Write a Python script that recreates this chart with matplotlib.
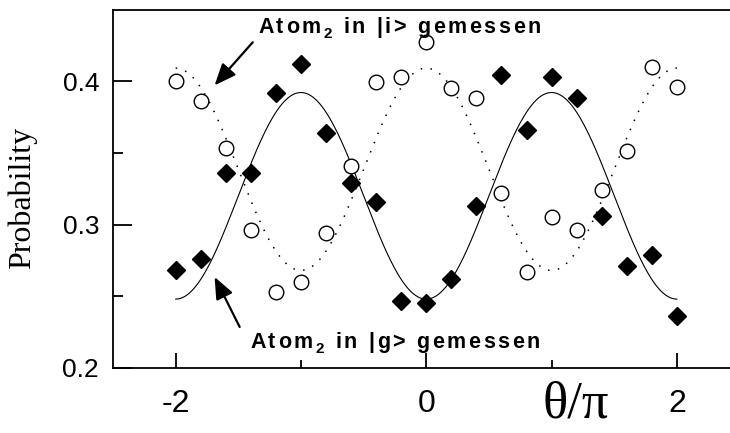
import numpy as np
import matplotlib
matplotlib.use("Agg")
import matplotlib.pyplot as plt
from matplotlib.transforms import IdentityTransform

plt.rcParams['axes.unicode_minus'] = False

# Messpunkte (theta/pi, Wahrscheinlichkeit)
theta = [-2.0, -1.8, -1.6, -1.4, -1.2, -1.0, -0.8, -0.6, -0.4, -0.2, 0.0,
         0.2, 0.4, 0.6, 0.8, 1.0, 1.2, 1.4, 1.6, 1.8, 2.0]
p_g = [0.268, 0.276, 0.336, 0.336, 0.392, 0.412, 0.364, 0.329, 0.316, 0.247, 0.245,
       0.262, 0.313, 0.404, 0.366, 0.403, 0.388, 0.306, 0.271, 0.279, 0.236]
p_i = [0.400, 0.386, 0.353, 0.296, 0.253, 0.260, 0.294, 0.341, 0.399, 0.403, 0.427,
       0.395, 0.388, 0.322, 0.267, 0.305, 0.296, 0.324, 0.351, 0.410, 0.396]

# Fit-Parameter: Mittelwert und Amplitude der Kosinus-Anpassung
fit_g = (0.320, -0.072)
fit_i = (0.3385, 0.0705)

W, H = 730, 433
fig = plt.figure(figsize=(W / 100, H / 100), dpi=100)
ax = fig.add_axes([113 / W, 65 / H, 617 / W, 358 / H])

x_fit = np.linspace(-2, 2, 400)
ax.plot(x_fit, fit_g[0] + fit_g[1] * np.cos(np.pi * x_fit), color='black', lw=0.8)
ax.plot(x_fit, fit_i[0] + fit_i[1] * np.cos(np.pi * x_fit), color='black', lw=1.1,
        linestyle=(0, (1, 5.5)))

ax.plot(theta, p_g, linestyle='none', marker='D', markersize=9.5,
        color='black', markeredgecolor='black')
ax.plot(theta, p_i, linestyle='none', marker='o', markersize=10.5,
        markerfacecolor='white', markeredgecolor='black', markeredgewidth=1.0)

ax.set_xlim(-2.5, 2.424)
ax.set_ylim(0.2, 0.4495)
ax.set_xticks([-2, 0, 2])
ax.set_xticks([-1, 1], minor=True)
ax.set_yticks([0.2, 0.3, 0.4])
ax.set_yticks([0.25, 0.35], minor=True)
ax.set_xticklabels(['-2', '0', '2'])
ax.set_yticklabels(['0.2', '0.3', '0.4'])

ax.spines['right'].set_visible(False)
for s in ['left', 'bottom', 'top']:
    ax.spines[s].set_linewidth(1.3)
ax.tick_params(axis='both', which='both', direction='in', width=1.3)
ax.tick_params(axis='x', which='major', length=11, pad=15, labelsize=23)
ax.tick_params(axis='x', which='minor', length=6)
ax.tick_params(axis='y', which='major', length=14, pad=10, labelsize=19)
ax.tick_params(axis='y', which='minor', length=7)
for lab in ax.get_xticklabels() + ax.get_yticklabels():
    lab.set_family('Liberation Sans')

fig.text(22 / W, 1 - 198 / H, 'Probability', rotation=90, ha='center', va='center',
         family='Liberation Serif', fontsize=23)
fig.text(576 / W, 1 - 405 / H, 'θ/π', ha='center', va='center',
         family='Liberation Serif', fontsize=38)


def tracked_text(x_px, base_px, parts, track):
    # Text Zeichen fuer Zeichen setzen, mit zusaetzlichem Buchstabenabstand
    renderer = fig.canvas.get_renderer()
    cur = x_px
    for chars, size, dy in parts:
        for ch in chars:
            if ch == ' ':
                cur += 0.28 * size * 100 / 72 + track
                continue
            t = fig.text(cur, H - base_px + dy, ch, transform=IdentityTransform(),
                         fontsize=size, fontweight='bold', family='Liberation Sans',
                         ha='left', va='baseline')
            cur += t.get_window_extent(renderer).width + track


tracked_text(258, 33, [('Atom', 15.5, 0), ('2', 11, -5), (' in |i> gemessen', 15.5, 0)], 2.6)
tracked_text(250, 348, [('Atom', 15.5, 0), ('2', 11, -5), (' in |g> gemessen', 15.5, 0)], 2.6)

arrow = dict(arrowstyle='-|>,head_length=0.6,head_width=0.25', color='black', lw=1.6,
             mutation_scale=22, shrinkA=0, shrinkB=0)
ax.annotate('', xy=(-1.689, 0.397), xytext=(-1.385, 0.427), arrowprops=arrow)
ax.annotate('', xy=(-1.689, 0.2634), xytext=(-1.489, 0.2286), arrowprops=arrow)

fig.savefig('out.png', dpi=100)
